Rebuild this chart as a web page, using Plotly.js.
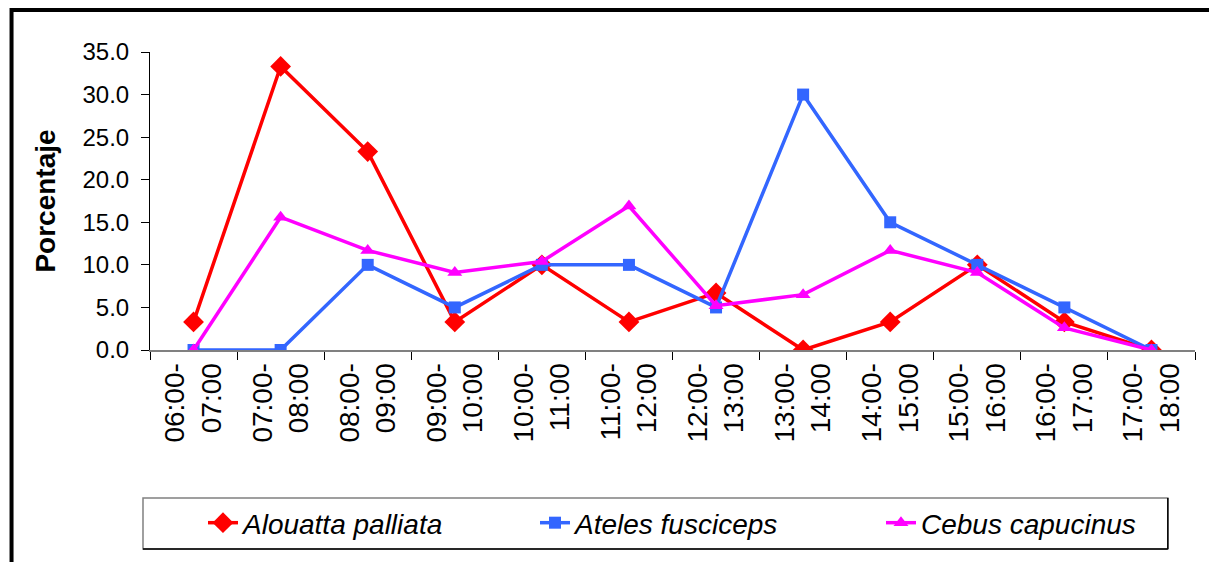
<!DOCTYPE html>
<html>
<head>
<meta charset="utf-8">
<script src="https://cdn.plot.ly/plotly-3.0.1.min.js"></script>
<style>
html,body{margin:0;padding:0;background:#fff;}
#chart{width:1209px;height:562px;}
</style>
</head>
<body>
<div id="chart"></div>
<script>
var categories = ["06:00-<br>07:00","07:00-<br>08:00","08:00-<br>09:00","09:00-<br>10:00","10:00-<br>11:00","11:00-<br>12:00","12:00-<br>13:00","13:00-<br>14:00","14:00-<br>15:00","15:00-<br>16:00","16:00-<br>17:00","17:00-<br>18:00"];
var seriesNames = ["Alouatta palliata","Ateles fusciceps","Cebus capucinus"];
var alouatta = [3.3, 33.3, 23.3, 3.3, 10.0, 3.3, 6.7, 0.0, 3.3, 10.0, 3.3, 0.0];
var ateles   = [0.0, 0.0, 10.0, 5.0, 10.0, 10.0, 5.0, 30.0, 15.0, 10.0, 5.0, 0.0];
var cebus    = [0.0, 15.6, 11.7, 9.1, 10.4, 16.9, 5.2, 6.5, 11.7, 9.1, 2.6, 0.0];
var yTicks = [0, 5, 10, 15, 20, 25, 30, 35];

var FONT = "Arial, 'Liberation Sans', sans-serif";

var traces = [
  {x: categories, y: alouatta, name: seriesNames[0], type: 'scatter', mode: 'lines+markers',
   line: {color: '#FF0000', width: 3.5}, marker: {symbol: 'diamond', size: 16, color: '#FF0000'}, legendwidth: 287},
  {x: categories, y: ateles, name: seriesNames[1], type: 'scatter', mode: 'lines+markers',
   line: {color: '#3366FF', width: 3.5}, marker: {symbol: 'square', size: 12, color: '#3366FF'}, legendwidth: 301},
  {x: categories, y: cebus, name: seriesNames[2], type: 'scatter', mode: 'lines+markers',
   line: {color: '#FF00FF', width: 3.5}, marker: {symbol: 'triangle-up', size: 13, color: '#FF00FF'}, legendwidth: 230}
];

var layout = {
  width: 1209, height: 562,
  margin: {l: 150, r: 14, t: 52, b: 212},
  paper_bgcolor: '#ffffff', plot_bgcolor: '#ffffff',
  font: {family: FONT, color: '#000'},
  showlegend: true,
  legend: {orientation: 'h', x: 0.0507, xanchor: 'left', y: -0.5805, yanchor: 'middle',
           font: {family: FONT, size: 28, color: '#000', style: 'italic'},
           borderwidth: 0, bgcolor: 'rgba(0,0,0,0)', itemclick: false},
  xaxis: {type: 'category', tickangle: -90, tickson: 'boundaries', ticks: 'outside', ticklen: 8,
          tickcolor: '#000', tickwidth: 1, showline: true, linecolor: '#808080', linewidth: 2,
          showgrid: false, zeroline: false, tickfont: {family: FONT, size: 28, color: '#000'},
          range: [-0.5, 11.5]},
  yaxis: {range: [0, 35], tickvals: yTicks, tickformat: '.1f', ticks: 'outside', ticklen: 8,
          tickcolor: '#000', tickwidth: 1, showline: true, linecolor: '#000', linewidth: 1,
          showgrid: false, zeroline: false, ticklabelstandoff: 7,
          tickfont: {family: FONT, size: 24, color: '#000'},
          title: {text: '<b>Porcentaje</b>', font: {family: FONT, size: 28, color: '#000'}, standoff: 18}},
  shapes: [
    {type: 'rect', xref: 'paper', yref: 'paper', x0: -0.1325, x1: 1.2, y0: 1.141, y1: -1.0,
     line: {color: '#000', width: 4}, fillcolor: 'rgba(0,0,0,0)'},
    {type: 'rect', xref: 'paper', yref: 'paper', x0: -0.0067, x1: 0.974, y0: -0.4966, y1: -0.6678,
     line: {color: '#808080', width: 1.5}, fillcolor: 'rgba(0,0,0,0)'},
    {type: 'line', xref: 'paper', yref: 'paper', x0: 0.974, x1: 0.974, y0: -0.4966, y1: -0.6678,
     line: {color: '#000', width: 1.5}},
    {type: 'line', xref: 'paper', yref: 'paper', x0: -0.0067, x1: 0.974, y0: -0.6678, y1: -0.6678,
     line: {color: '#000', width: 1.5}}
  ]
};

Plotly.newPlot('chart', traces, layout, {displayModeBar: false, staticPlot: true});
</script>
</body>
</html>
